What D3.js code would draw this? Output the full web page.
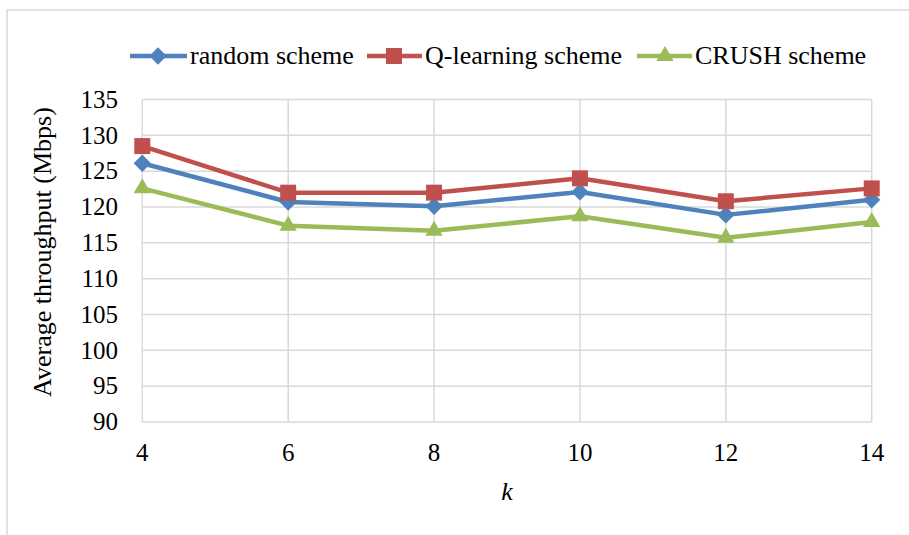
<!DOCTYPE html>
<html>
<head>
<meta charset="utf-8">
<script src="https://cdn.jsdelivr.net/npm/d3@7"></script>
<style>
  html body svg#chart text, html body svg#chart g text {
    font-family: "Liberation Serif", "Times New Roman", Tinos, "Nimbus Roman", FreeSerif, serif !important;
  }
</style>
</head>
<body style="margin:0">
<svg id="chart" width="909" height="535"></svg>
<script>
// data
const kValues = [4, 6, 8, 10, 12, 14];
const randomScheme = [126.1, 120.7, 120.1, 122.1, 118.9, 121.0];
const qLearningScheme = [128.5, 122.0, 122.0, 124.0, 120.8, 122.6];
const crushScheme = [122.6, 117.4, 116.7, 118.7, 115.7, 117.9];
const yTicks = [90, 95, 100, 105, 110, 115, 120, 125, 130, 135];
const seriesNames = ["random scheme", "Q-learning scheme", "CRUSH scheme"];

const series = [
  { name: seriesNames[0], values: randomScheme, color: "#4F81BD", shape: "diamond" },
  { name: seriesNames[1], values: qLearningScheme, color: "#C0504D", shape: "square" },
  { name: seriesNames[2], values: crushScheme, color: "#9BBB59", shape: "triangle" }
];

const FONT = "'Times New Roman', 'Liberation Serif', Tinos, serif";
const svg = d3.select("#chart");

// outer chart border (only top and left visible in the crop)
svg.append("rect")
  .attr("x", 7).attr("y", 10)
  .attr("width", 1000).attr("height", 600)
  .attr("fill", "none")
  .attr("stroke", "#D9D9D9")
  .attr("stroke-width", 1.5);

const x = d3.scaleLinear().domain([4, 14]).range([142.3, 871.7]);
const y = d3.scaleLinear().domain([90, 135]).range([422, 99.5]);

// gridlines
svg.append("g").selectAll("line")
  .data(yTicks)
  .enter().append("line")
  .attr("x1", x(4)).attr("x2", x(14))
  .attr("y1", d => y(d)).attr("y2", d => y(d))
  .attr("stroke", "#D9D9D9")
  .attr("stroke-width", 1.5);

svg.append("g").selectAll("line")
  .data(kValues)
  .enter().append("line")
  .attr("x1", d => x(d)).attr("x2", d => x(d))
  .attr("y1", y(90)).attr("y2", y(135))
  .attr("stroke", "#D9D9D9")
  .attr("stroke-width", 1.5);

// y tick labels
svg.append("g").selectAll("text")
  .data(yTicks)
  .enter().append("text")
  .attr("x", 118)
  .attr("y", d => y(d))
  .attr("dy", "0.33em")
  .attr("text-anchor", "end")
  .style("font-family", FONT, "important")
  .style("font-size", "25px")
  .text(d => d);

// x tick labels
svg.append("g").selectAll("text")
  .data(kValues)
  .enter().append("text")
  .attr("x", d => x(d))
  .attr("y", 461)
  .attr("text-anchor", "middle")
  .style("font-family", FONT, "important")
  .style("font-size", "25px")
  .text(d => d);

// axis titles
svg.append("text")
  .attr("transform", "translate(51,252) rotate(-90)")
  .attr("text-anchor", "middle")
  .style("font-family", FONT, "important")
  .style("font-size", "26px")
  .text("Average throughput (Mbps)");

svg.append("text")
  .attr("x", (x(4) + x(14)) / 2)
  .attr("y", 500)
  .attr("text-anchor", "middle")
  .style("font-family", FONT, "important")
  .style("font-size", "26px")
  .style("font-style", "italic")
  .text("k");

// markers
function markerPath(shape) {
  if (shape === "square") return d3.symbol(d3.symbolSquare, 256)();
  if (shape === "triangle") return d3.symbol(d3.symbolTriangle, 130)();
  return d3.symbol(d3.symbolSquare, 150)();
}
function markerRotate(shape) {
  return shape === "diamond" ? " rotate(45)" : "";
}

const line = d3.line()
  .x((d, i) => x(kValues[i]))
  .y(d => y(d));

series.forEach(s => {
  svg.append("path")
    .datum(s.values)
    .attr("d", line)
    .attr("fill", "none")
    .attr("stroke", s.color)
    .attr("stroke-width", 4.5)
    .attr("stroke-linejoin", "round");

  svg.append("g").selectAll("path")
    .data(s.values)
    .enter().append("path")
    .attr("d", markerPath(s.shape))
    .attr("transform", (d, i) => `translate(${x(kValues[i])},${y(d)})` + markerRotate(s.shape))
    .attr("fill", s.color);
});

// legend
const legendItems = [
  { x1: 130, x2: 187, cx: 158, tx: 190 },
  { x1: 367, x2: 422, cx: 394, tx: 425 },
  { x1: 637, x2: 692, cx: 665, tx: 695 }
];
const legendY = 56;

const legend = svg.append("g").selectAll("g")
  .data(series)
  .enter().append("g");

legend.append("line")
  .attr("x1", (d, i) => legendItems[i].x1)
  .attr("x2", (d, i) => legendItems[i].x2)
  .attr("y1", legendY).attr("y2", legendY)
  .attr("stroke", d => d.color)
  .attr("stroke-width", 4.5);

legend.append("path")
  .attr("d", d => markerPath(d.shape))
  .attr("transform", (d, i) => `translate(${legendItems[i].cx},${legendY})` + markerRotate(d.shape))
  .attr("fill", d => d.color);

legend.append("text")
  .attr("x", (d, i) => legendItems[i].tx)
  .attr("y", legendY + 8)
  .style("font-family", FONT, "important")
  .style("font-size", "26px")
  .text(d => d.name);
</script>
</body>
</html>
